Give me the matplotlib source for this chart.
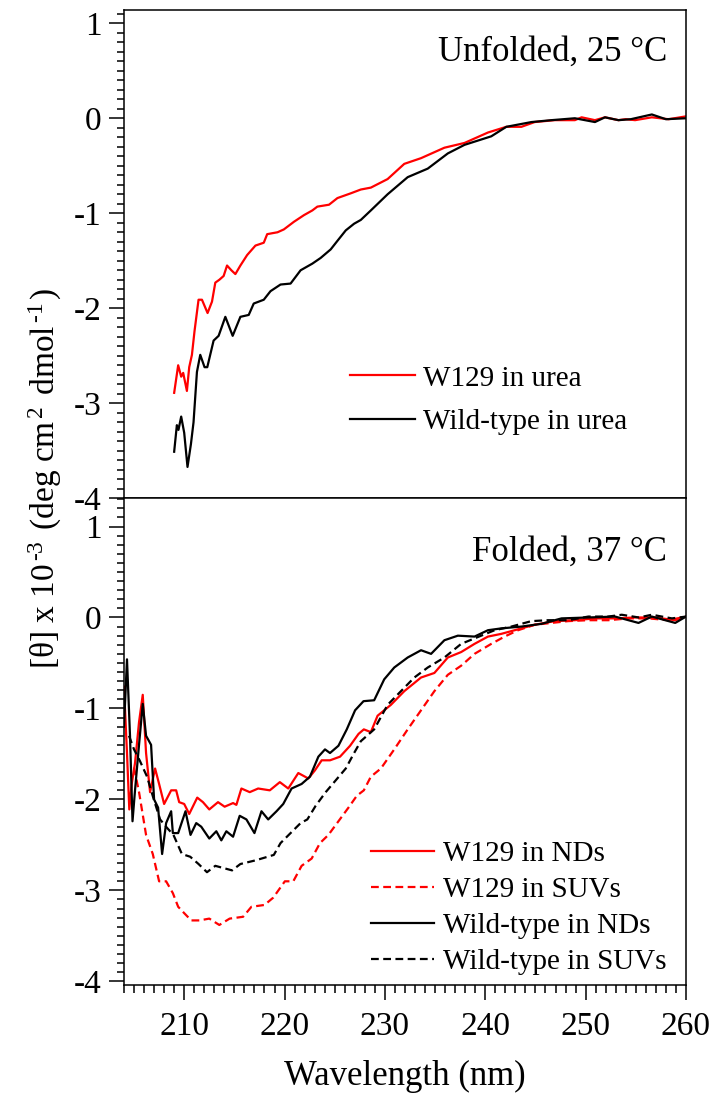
"""
CD spectra of W129 and wild-type: unfolded (urea) and folded (NDs / SUVs).
"""
import matplotlib
matplotlib.use("Agg")
import matplotlib.pyplot as plt
from matplotlib.ticker import MultipleLocator

# (wavelength nm, [theta] x 10^-3)
w129_urea = [(209.0, -2.89), (209.4, -2.60), (209.7, -2.72), (209.9, -2.68), (210.27, -2.87),
             (210.5, -2.62), (210.77, -2.49), (211.03, -2.24), (211.43, -1.91), (211.77, -1.91),
             (212.33, -2.05), (212.77, -1.93), (213.1, -1.73), (213.5, -1.70), (213.93, -1.66),
             (214.27, -1.55), (214.7, -1.60), (215.1, -1.64), (215.6, -1.55), (216.27, -1.44),
             (217.1, -1.34), (217.93, -1.31), (218.27, -1.22), (218.77, -1.21), (219.3, -1.20),
             (219.93, -1.17), (220.93, -1.09), (221.93, -1.02), (222.77, -0.97), (223.27, -0.93),
             (224.43, -0.91), (225.27, -0.84), (226.6, -0.79), (227.6, -0.75), (228.6, -0.73),
             (230.27, -0.64), (231.93, -0.48), (233.6, -0.42), (235.93, -0.31), (237.93, -0.26),
             (240.27, -0.15), (242.1, -0.09), (243.6, -0.09), (244.93, -0.04), (246.93, -0.02),
             (248.93, -0.02), (249.6, 0.01), (250.93, -0.02), (251.93, 0.01), (253.27, -0.02),
             (254.0, -0.01), (254.93, -0.02), (256.6, 0.01), (258.27, -0.01), (260.0, 0.02)]

wt_urea = [(209.0, -3.51), (209.27, -3.23), (209.43, -3.28), (209.7, -3.14), (210.0, -3.31),
           (210.33, -3.67), (210.67, -3.43), (210.93, -3.20), (211.27, -2.67), (211.6, -2.49),
           (212.03, -2.62), (212.3, -2.62), (212.93, -2.34), (213.43, -2.29), (214.1, -2.09),
           (214.83, -2.29), (215.6, -2.09), (216.43, -2.07), (216.93, -1.95), (217.93, -1.91),
           (218.6, -1.82), (219.6, -1.75), (220.6, -1.74), (221.6, -1.60), (222.77, -1.53),
           (223.6, -1.47), (224.6, -1.38), (225.27, -1.29), (226.1, -1.18), (226.93, -1.11),
           (227.6, -1.07), (228.6, -0.97), (230.27, -0.80), (232.27, -0.62), (234.27, -0.53),
           (236.27, -0.37), (237.93, -0.28), (240.6, -0.19), (242.1, -0.09), (244.6, -0.04),
           (246.6, -0.02), (248.93, 0.0), (250.93, -0.04), (251.93, 0.01), (253.27, -0.02),
           (254.5, -0.01), (256.6, 0.04), (258.0, -0.01), (260.0, 0.0)]

w129_nds = [(204.0, -0.76), (204.3, -1.49), (204.53, -2.11), (204.77, -1.83), (205.1, -1.60),
            (205.5, -1.15), (205.87, -0.85), (206.2, -1.49), (206.6, -1.92), (207.1, -1.66),
            (207.5, -1.83), (208.0, -2.05), (208.7, -1.90), (209.2, -1.90), (209.5, -2.03),
            (210.0, -2.05), (210.5, -2.16), (211.3, -1.98), (211.87, -2.03), (212.5, -2.11),
            (213.37, -2.03), (214.03, -2.08), (214.87, -2.04), (215.2, -2.06), (215.7, -1.88),
            (216.53, -1.92), (217.37, -1.88), (218.53, -1.90), (219.53, -1.81), (220.37, -1.88),
            (221.37, -1.71), (222.37, -1.77), (223.03, -1.68), (223.7, -1.57), (224.53, -1.57),
            (225.53, -1.53), (226.53, -1.41), (227.37, -1.28), (227.9, -1.23), (228.6, -1.26),
            (229.27, -1.08), (230.6, -0.96), (231.93, -0.81), (233.6, -0.66), (234.93, -0.61),
            (236.27, -0.44), (237.6, -0.38), (238.93, -0.29), (240.27, -0.21), (241.6, -0.18),
            (242.93, -0.14), (244.93, -0.08), (246.93, -0.04), (248.93, -0.03), (250.93, -0.01),
            (252.93, -0.01), (254.93, 0.0), (256.93, 0.0), (258.93, -0.03), (260.0, 0.01)]

w129_suvs = [(205.0, -1.65), (205.5, -1.92), (206.2, -2.39), (206.87, -2.60), (207.5, -2.90),
             (208.2, -2.90), (208.87, -3.03), (209.4, -3.18), (210.0, -3.25), (210.7, -3.33),
             (211.53, -3.33), (212.5, -3.31), (213.5, -3.38), (214.53, -3.31), (215.87, -3.29),
             (216.7, -3.18), (218.0, -3.16), (218.87, -3.08), (220.03, -2.90), (220.87, -2.90),
             (221.7, -2.73), (222.7, -2.65), (223.53, -2.48), (224.37, -2.39), (225.37, -2.24),
             (226.37, -2.09), (227.2, -1.96), (227.9, -1.90), (228.6, -1.75), (229.6, -1.66),
             (230.93, -1.45), (232.27, -1.23), (233.6, -1.02), (234.93, -0.81), (236.27, -0.63),
             (237.6, -0.53), (238.93, -0.40), (240.6, -0.29), (241.93, -0.21), (243.27, -0.14),
             (244.93, -0.08), (246.6, -0.06), (248.27, -0.04), (250.27, -0.03), (252.27, -0.03),
             (254.27, -0.01), (256.27, -0.01), (258.27, -0.03), (260.0, 0.01)]

wt_nds = [(204.0, -1.20), (204.3, -0.46), (204.6, -1.30), (204.85, -2.24), (205.1, -1.90),
          (205.5, -1.40), (205.87, -0.95), (206.2, -1.30), (206.7, -1.40), (207.0, -2.00),
          (207.4, -2.09), (207.8, -2.60), (208.2, -2.26), (208.7, -2.13), (208.87, -2.37),
          (209.4, -2.37), (210.13, -2.13), (210.63, -2.39), (211.2, -2.26), (211.7, -2.30),
          (212.5, -2.43), (213.2, -2.35), (213.7, -2.45), (214.2, -2.35), (214.87, -2.41),
          (215.53, -2.18), (216.2, -2.22), (217.0, -2.37), (217.7, -2.13), (218.37, -2.22),
          (219.2, -2.13), (219.87, -2.05), (220.7, -1.88), (221.7, -1.83), (222.53, -1.75),
          (223.37, -1.53), (224.03, -1.45), (224.53, -1.49), (225.37, -1.41), (226.2, -1.23),
          (227.03, -1.02), (227.87, -0.92), (228.93, -0.91), (229.93, -0.68), (230.93, -0.55),
          (232.27, -0.44), (233.6, -0.36), (234.6, -0.40), (235.93, -0.25), (237.27, -0.20),
          (238.93, -0.21), (240.27, -0.14), (241.6, -0.12), (243.6, -0.10), (245.6, -0.07),
          (247.6, -0.01), (250.27, 0.0), (252.93, 0.01), (255.27, -0.06), (256.6, 0.01),
          (258.93, -0.06), (260.0, 0.01)]

wt_suvs = [(204.5, -1.30), (205.0, -1.45), (205.6, -1.58), (206.3, -1.75), (206.97, -2.00),
           (207.6, -2.22), (208.27, -2.31), (208.93, -2.39), (209.77, -2.60), (210.6, -2.63),
           (211.43, -2.71), (212.27, -2.80), (213.1, -2.73), (214.77, -2.78), (215.6, -2.71),
           (217.1, -2.67), (218.93, -2.61), (219.6, -2.48), (220.6, -2.37), (221.6, -2.26),
           (222.27, -2.22), (223.1, -2.07), (224.1, -1.92), (225.1, -1.79), (226.1, -1.66),
           (226.93, -1.49), (227.6, -1.36), (228.93, -1.23), (230.27, -0.96), (231.6, -0.81),
           (232.93, -0.66), (234.27, -0.55), (235.93, -0.44), (237.6, -0.29), (238.93, -0.23),
           (240.93, -0.14), (242.6, -0.10), (244.6, -0.04), (246.27, -0.03), (248.27, -0.03),
           (250.27, 0.01), (252.27, 0.01), (253.6, 0.03), (255.3, 0.0), (256.6, 0.03),
           (258.6, -0.01), (260.0, 0.01)]

plt.rcParams['font.family'] = ['Liberation Serif', 'DejaVu Serif']
plt.rcParams['mathtext.fontset'] = 'custom'
plt.rcParams['mathtext.rm'] = 'Liberation Serif'
plt.rcParams['mathtext.it'] = 'Liberation Serif:italic'
plt.rcParams['axes.unicode_minus'] = False
plt.rcParams['axes.linewidth'] = 1.1

LW = 1.6
DASH = (0, (3.5, 2))


def unzip(pairs):
    return [p[0] for p in pairs], [p[1] for p in pairs]


def style_yaxis(ax):
    ax.yaxis.set_major_locator(MultipleLocator(1))
    ax.yaxis.set_minor_locator(MultipleLocator(0.1))
    ax.tick_params(axis='y', which='major', direction='out', length=11, width=1.1,
                   labelsize=24, pad=5)
    ax.tick_params(axis='y', which='minor', direction='out', length=5, width=1.1)
    ax.set_xlim(204, 260)


fig = plt.figure(figsize=(7.15, 10.93), dpi=100)
left, width = 0.1734, 0.7860
ax_top = fig.add_axes([left, 0.5441, width, 0.9909 - 0.5441])
ax_bot = fig.add_axes([left, 0.0988, width, 0.5441 - 0.0988])

# --- unfolded panel
x, y = unzip(w129_urea)
ax_top.plot(x, y, color='#ff0000', lw=LW, label='W129 in urea')
x, y = unzip(wt_urea)
ax_top.plot(x, y, color='black', lw=LW, label='Wild-type in urea')
style_yaxis(ax_top)
ax_top.set_ylim(-4, 1.14)
ax_top.tick_params(axis='x', which='both', bottom=False, labelbottom=False)
ax_top.text(0.966, 0.914, 'Unfolded, 25 °C', transform=ax_top.transAxes,
            ha='right', va='center', fontsize=25)
ax_top.legend(loc='center left', bbox_to_anchor=(0.403, 0.201), frameon=False,
              fontsize=21, handlelength=2.2, handletextpad=0.3, labelspacing=0.58,
              borderpad=0, borderaxespad=0)

# --- folded panel
x, y = unzip(w129_nds)
ax_bot.plot(x, y, color='#ff0000', lw=LW, label='W129 in NDs')
x, y = unzip(w129_suvs)
ax_bot.plot(x, y, color='#ff0000', lw=LW, ls=DASH, label='W129 in SUVs')
x, y = unzip(wt_nds)
ax_bot.plot(x, y, color='black', lw=LW, label='Wild-type in NDs')
x, y = unzip(wt_suvs)
ax_bot.plot(x, y, color='black', lw=LW, ls=DASH, label='Wild-type in SUVs')
style_yaxis(ax_bot)
ax_bot.set_ylim(-4.04, 1.31)
ax_bot.xaxis.set_major_locator(MultipleLocator(10))
ax_bot.xaxis.set_minor_locator(MultipleLocator(1))
ax_bot.tick_params(axis='x', which='major', direction='out', length=11, width=1.1,
                   labelsize=24, pad=8)
ax_bot.tick_params(axis='x', which='minor', direction='out', length=6, width=1.1)
ax_bot.set_xlabel('Wavelength (nm)', fontsize=25, labelpad=13)
ax_bot.text(0.966, 0.89, 'Folded, 37 °C', transform=ax_bot.transAxes,
            ha='right', va='center', fontsize=25)
ax_bot.legend(loc='center left', bbox_to_anchor=(0.44, 0.158), frameon=False,
              fontsize=21, handlelength=2.15, handletextpad=0.3, labelspacing=0.33,
              borderpad=0, borderaxespad=0)

fig.text(0.063, 1 - 478 / 1093,
         r'[θ] x 10$^{\,\text{-3}\,}$ (deg cm$^{\,2\,}$ dmol$^{\,\text{-1}\,}$)',
         rotation=90, ha='center', va='center', fontsize=24)

fig.savefig('out.png', dpi=100)
